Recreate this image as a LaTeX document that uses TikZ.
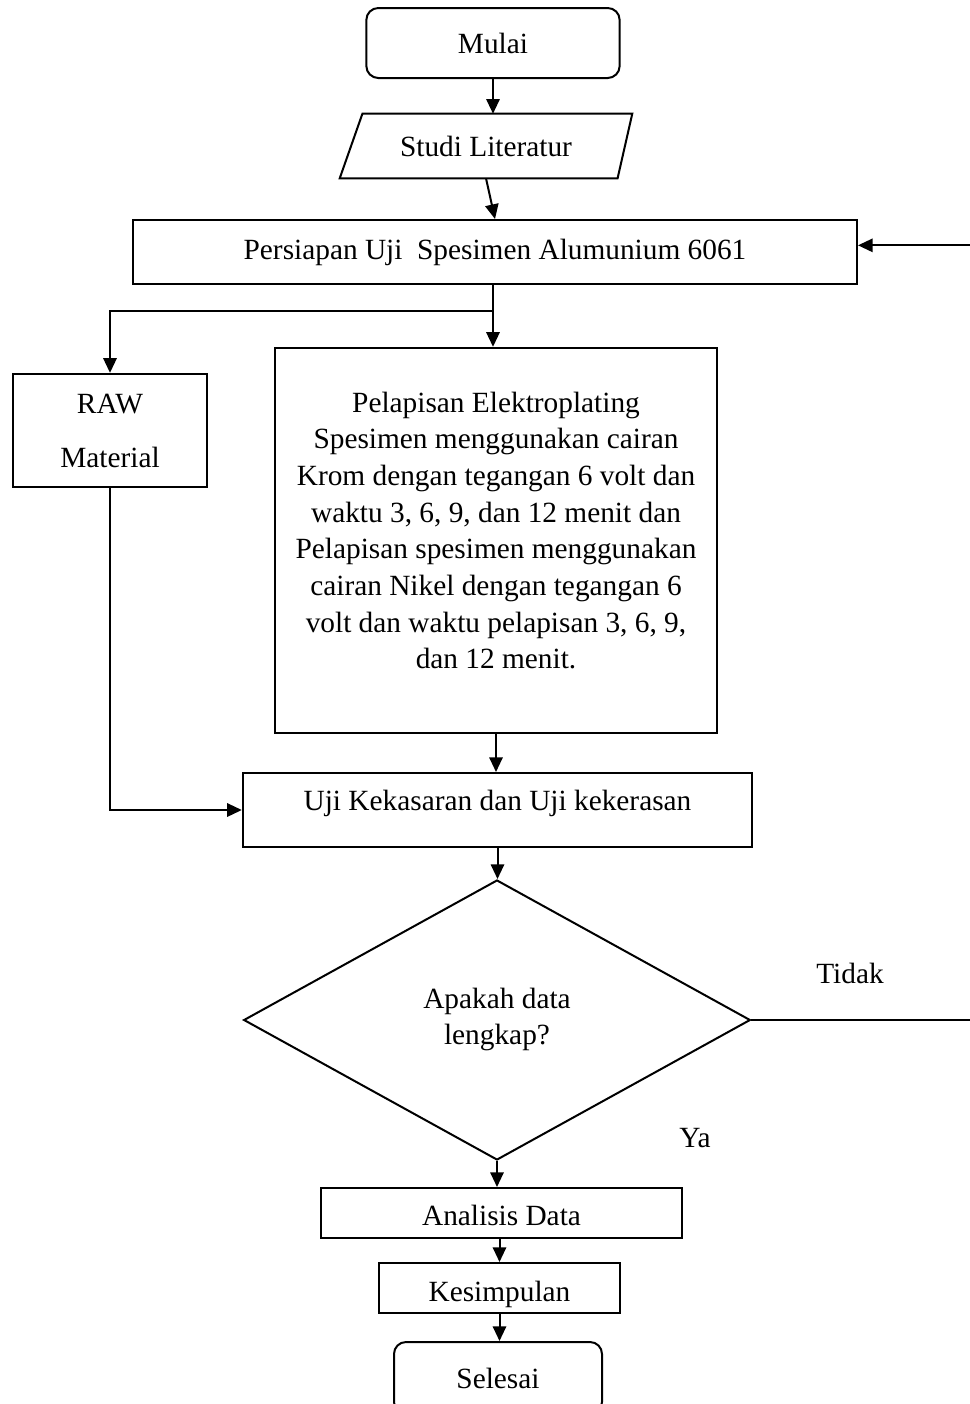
\documentclass[tikz,border=0pt]{standalone}
\usepackage{fontspec}
\setmainfont{Liberation Serif}
\usetikzlibrary{shapes.geometric,arrows.meta}

\begin{document}
\begin{tikzpicture}[x=0.75pt,y=-0.75pt,
  font=\fontsize{22}{27.5}\selectfont,
  every node/.style={align=center},
  terminal node/.style={rectangle, rounded corners=9pt, draw, line width=1.5pt, minimum width=190pt, minimum height=52.5pt},
  data node/.style={rectangle, minimum width=219pt, minimum height=48pt},
  proses node/.style={rectangle, draw, line width=1.5pt},
  cek node/.style={diamond, draw, line width=1.5pt, inner sep=0pt, minimum width=380pt, minimum height=210pt},
  alur/.style={->, line width=1.5pt, >={Triangle[length=11pt,width=10pt]}}]
  \useasboundingbox (0,0) rectangle (970,1404);

  \node[terminal node] (mulai) at (493,43) {Mulai};
  \node[data node] (studi) at (486,146) {\raisebox{-3pt}[15pt][5pt]{Studi Literatur}};
  \draw[line width=1.5pt] ([xshift=17pt]studi.north west) -- (studi.north east)
    -- ([xshift=-11pt]studi.south east) -- (studi.south west) -- cycle;
  \node[proses node, minimum width=543pt, minimum height=48pt] (persiapan) at (495,252) {Persiapan Uji~~Spesimen Alumunium 6061};
  \node[proses node, minimum width=145.5pt, minimum height=85pt] (raw) at (110,430.5) {RAW\\[13pt]Material};
  \node[proses node, minimum width=331.5pt, minimum height=289pt] (pelapisan) at (496,540.5) {Pelapisan Elektroplating\\Spesimen menggunakan cairan\\Krom dengan tegangan 6 volt dan\\waktu 3, 6, 9, dan 12 menit dan\\Pelapisan spesimen menggunakan\\cairan Nikel dengan tegangan 6\\volt dan waktu pelapisan 3, 6, 9,\\dan 12 menit.\\[-12pt]};
  \node[proses node, minimum width=382pt, minimum height=55.5pt] (uji) at (497.5,810) {\raisebox{5pt}[15pt][5pt]{Uji Kekasaran dan Uji kekerasan}};
  \node[cek node] (cek) at (497,1020) {Apakah data\\lengkap?\\[-22pt]};
  \node (tidak) at (850,973) {Tidak};
  \node (ya) at (695,1138) {Ya};
  \node[proses node, minimum width=271pt, minimum height=37.5pt] (analisis) at (501.5,1213) {\raisebox{-4pt}[15pt][5pt]{Analisis Data}};
  \node[proses node, minimum width=181pt, minimum height=37.5pt] (kesimpulan) at (499.5,1288) {\raisebox{-5pt}[15pt][5pt]{Kesimpulan}};
  \node[terminal node, minimum width=156pt, minimum height=54pt] (selesai) at (498,1378) {Selesai};

  \coordinate (cabang) at (493,311);

  \draw[alur] (mulai.south) -- (mulai.south |- studi.north);
  \draw[alur] (studi.south) -- (persiapan.north);
  \draw[line width=1.5pt] (persiapan.south -| cabang) -- (cabang);
  \draw[alur] (cabang) -- (cabang |- pelapisan.north);
  \draw[alur] (cabang) -| (raw.north);
  \draw[alur] (pelapisan.south) -- (pelapisan.south |- uji.north);
  \draw[alur] (raw.south) |- (uji.west);
  \draw[alur] (uji.south) -- (uji.south |- cek.north);
  \draw[alur] (cek.east) -- ++(228,0) |- ([yshift=5pt]persiapan.east);
  \draw[alur] (cek.south) -- (cek.south |- analisis.north);
  \draw[alur] (analisis.south -| kesimpulan.north) -- (kesimpulan.north);
  \draw[alur] (kesimpulan.south) -- (kesimpulan.south |- selesai.north);
\end{tikzpicture}
\end{document}
